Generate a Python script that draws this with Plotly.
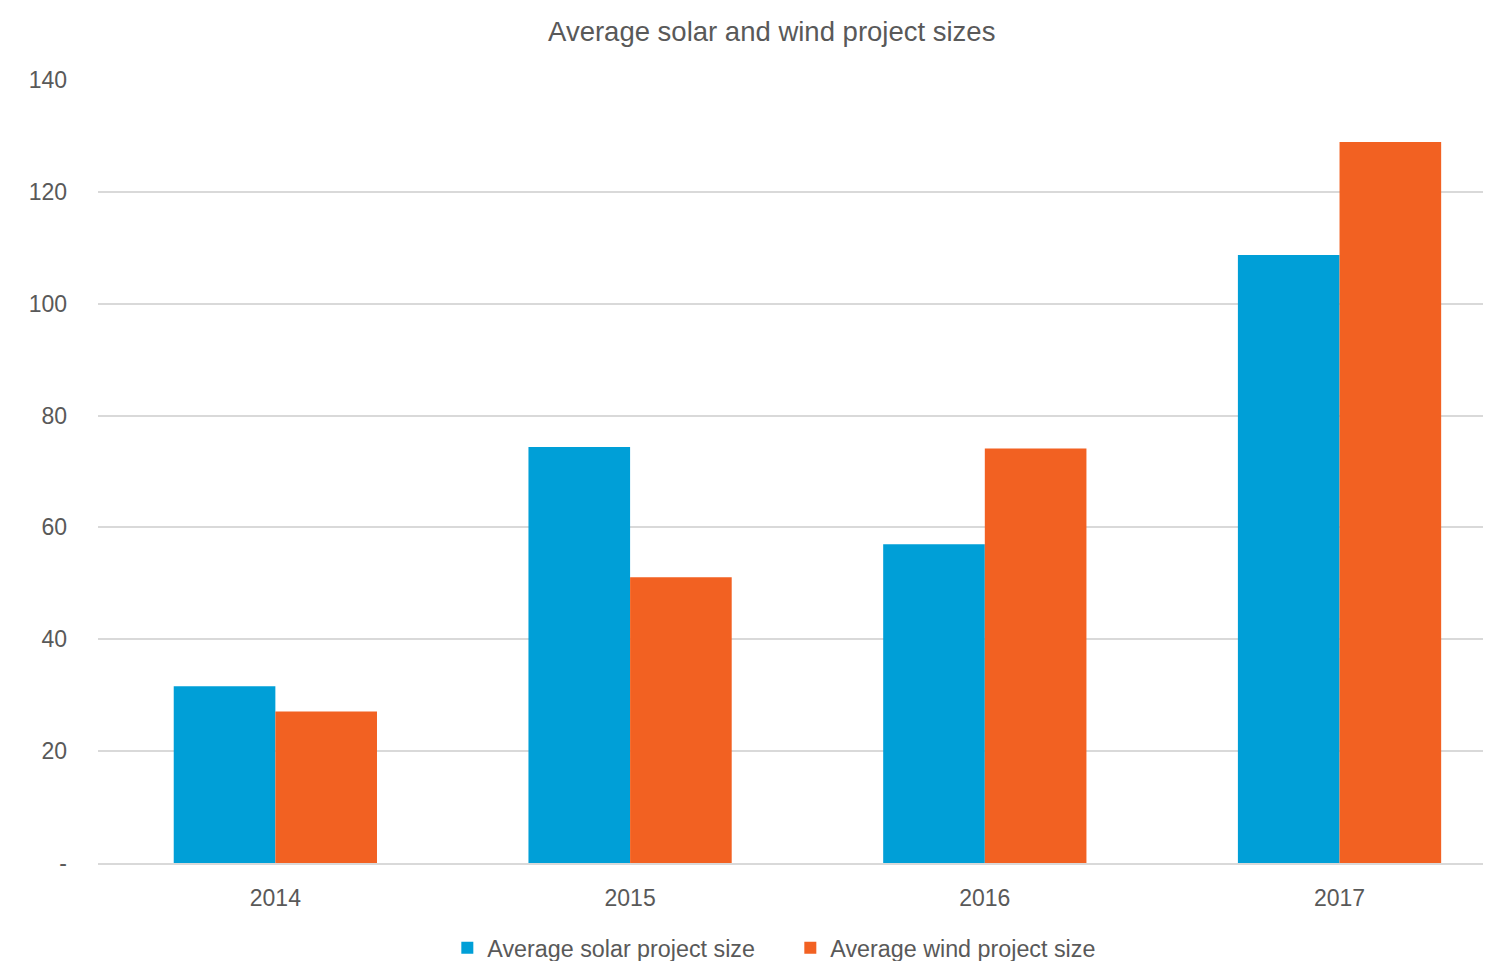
import plotly.graph_objects as go

years = ["2014", "2015", "2016", "2017"]
solar = [31.6, 74.4, 57.0, 108.7]
wind = [27.1, 51.1, 74.1, 128.9]
y_ticks = [0, 20, 40, 60, 80, 100, 120, 140]
y_tick_labels = ["-", "20", "40", "60", "80", "100", "120", "140"]

FONT = "Liberation Sans, Arial, sans-serif"
GRAY = "#595959"

fig = go.Figure()
fig.add_trace(go.Bar(x=years, y=solar, name="Average solar project size",
                     marker=dict(color="#009FD7", line=dict(width=0))))
fig.add_trace(go.Bar(x=years, y=wind, name="Average wind project size",
                     marker=dict(color="#F26122", line=dict(width=0))))

fig.update_layout(
    width=1483, height=953,
    margin=dict(l=90, r=0, t=72, b=98),
    paper_bgcolor="white", plot_bgcolor="white",
    barmode="group", bargap=0.427, bargroupgap=0,
    font=dict(family=FONT, color=GRAY, size=23),
    title=dict(text="Average solar and wind project sizes", x=0.515, xanchor="center",
               y=1 - 23 / 953, yanchor="middle", font=dict(size=27.5, color=GRAY, family=FONT)),
    xaxis=dict(range=[-0.5, 3.427], showgrid=False, showline=True, linecolor="#D9D9D9",
               linewidth=2, ticks="", tickfont=dict(size=23, color=GRAY),
               ticklabelstandoff=13),
    yaxis=dict(range=[0, 140], tickvals=y_ticks, ticktext=y_tick_labels,
               showgrid=True, gridcolor="#D9D9D9", gridwidth=1.5, zeroline=False,
               showline=False, ticks="", tickfont=dict(size=23, color=GRAY),
               ticklabelstandoff=30),
    legend=dict(orientation="h", x=0.497, xanchor="center", yref="container",
                y=13 / 953, yanchor="middle",
                font=dict(size=23.3, color=GRAY), itemwidth=30, traceorder="normal",
                entrywidth=298, entrywidthmode="pixels"),
    showlegend=True,
)

fig.write_html("out.html")
